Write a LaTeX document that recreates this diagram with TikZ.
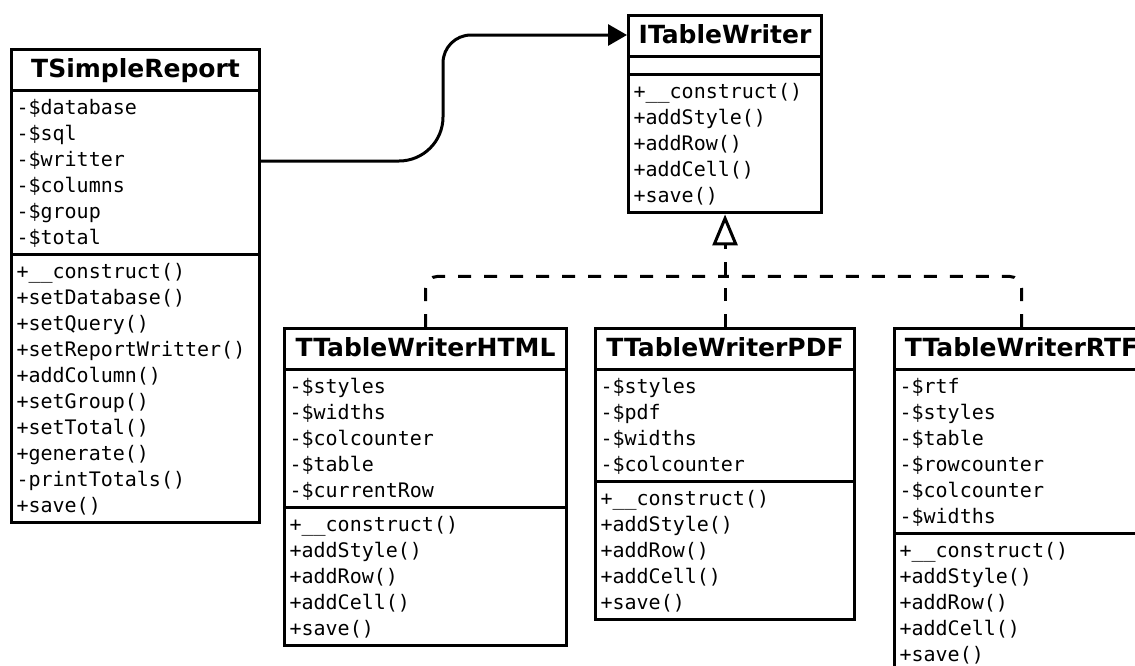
\documentclass[tikz,border=0pt]{standalone}
\usepackage{fontspec}
\setmainfont{DejaVu Sans}
\newfontfamily\umlmono{DejaVu Sans Mono}
\usetikzlibrary{shapes.multipart,arrows.meta,calc}
\newcommand\ctitle[1]{{\normalfont\bfseries\fontsize{25}{30}\selectfont #1}\rule[-9pt]{0pt}{33pt}}
\newcommand\crow{\rule[-6pt]{0pt}{26pt}}
\tikzset{
  umlclass/.style={draw, line width=3.1pt, fill=white, rectangle split, rectangle split parts=3,
    rectangle split part align={center,left,left}, align=left,
    inner xsep=5pt, inner ysep=2.5pt, anchor=north west,
    font=\umlmono\fontsize{20}{26}\selectfont},
  splitline/.style={line width=3.1pt},
  assoc/.style={line width=3pt, -{Triangle[length=19pt,width=21pt]}},
  realize/.style={line width=3pt, dash pattern=on 13pt off 13pt},
  realtip/.style={-{Triangle[open,length=31pt,width=25pt,line width=3pt]}}
}
\begin{document}
\begin{tikzpicture}[x=1pt,y=-1pt]
\fill[white] (0,0) rectangle (1135,665);
\clip (0,0) rectangle (1135,665);

\node[umlclass, minimum width=248pt] (tsr) at (10,48) {\ctitle{TSimpleReport}
\nodepart{two}-\$database\crow\\-\$sql\crow\\-\$writter\crow\\-\$columns\crow\\-\$group\crow\\-\$total\crow
\nodepart{three}+\_\_construct()\crow\\+setDatabase()\crow\\+setQuery()\crow\\+setReportWritter()\crow\\+addColumn()\crow\\+setGroup()\crow\\+setTotal()\crow\\+generate()\crow\\-printTotals()\crow\\+save()\crow};

\node[umlclass, minimum width=193pt] (itw) at (627,14) {\ctitle{ITableWriter}
\nodepart{two}\rule{0pt}{10pt}
\nodepart{three}+\_\_construct()\crow\\+addStyle()\crow\\+addRow()\crow\\+addCell()\crow\\+save()\crow};

\node[umlclass, minimum width=282pt] (html) at (283,327) {\ctitle{TTableWriterHTML}
\nodepart{two}-\$styles\crow\\-\$widths\crow\\-\$colcounter\crow\\-\$table\crow\\-\$currentRow\crow
\nodepart{three}+\_\_construct()\crow\\+addStyle()\crow\\+addRow()\crow\\+addCell()\crow\\+save()\crow};

\node[umlclass, minimum width=259pt] (pdf) at (594,327) {\ctitle{TTableWriterPDF}
\nodepart{two}-\$styles\crow\\-\$pdf\crow\\-\$widths\crow\\-\$colcounter\crow
\nodepart{three}+\_\_construct()\crow\\+addStyle()\crow\\+addRow()\crow\\+addCell()\crow\\+save()\crow};

\node[umlclass, minimum width=254pt] (rtf) at (893,327) {\ctitle{TTableWriterRTF}
\nodepart{two}-\$rtf\crow\\-\$styles\crow\\-\$table\crow\\-\$rowcounter\crow\\-\$colcounter\crow\\-\$widths\crow
\nodepart{three}+\_\_construct()\crow\\+addStyle()\crow\\+addRow()\crow\\+addCell()\crow\\+save()\crow};

% thick section separators
\foreach \cname in {tsr,itw,html,pdf,rtf}{
  \draw[splitline] (\cname.one split west) -- (\cname.one split east);
  \draw[splitline] (\cname.two split west) -- (\cname.two split east);
}

% association TSimpleReport -> ITableWriter
\coordinate (assocA) at ($(tsr.north east)+(0,113)$);
\coordinate (assocB) at ($(itw.north west)+(0,21)$);
\draw[assoc] (assocA) -- (399,161) .. controls (423.3,161) and (443,141.3) .. (443,117)
  -- (443,63) .. controls (443,47.5) and (455.5,35) .. (471,35) -- (assocB);

% realizations
\coordinate (junc) at ($(itw.south)+(0,62)$);
\draw[realize, realtip] (pdf.north) -- (itw.south);
\draw[realize, rounded corners=12pt] (html.north) |- (junc);
\draw[realize, rounded corners=12pt] (rtf.north) |- (junc);
\end{tikzpicture}
\end{document}
